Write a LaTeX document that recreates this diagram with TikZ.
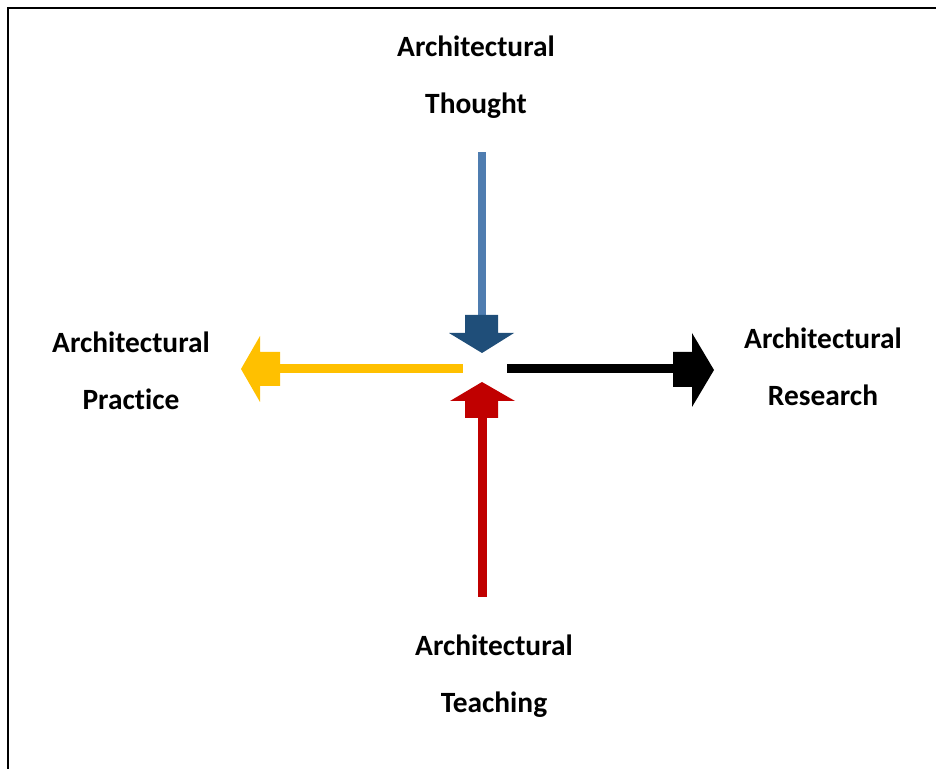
\documentclass[tikz,border=0pt]{standalone}
\usepackage{fontspec}
\setmainfont{Carlito}[Ligatures=NoCommon]
\definecolor{thoughtlight}{HTML}{4F7DB0}
\definecolor{thoughtdark}{HTML}{1F4E79}
\definecolor{teachred}{HTML}{C00000}
\definecolor{practiceyellow}{HTML}{FFC000}
\tikzset{
  lbl/.style={font=\fontsize{14.7pt}{28.5pt}\selectfont\bfseries, align=center, inner sep=0pt},
  frame/.style={draw=black, line width=1.2pt}
}
\begin{document}
\begin{tikzpicture}[x=0.5pt,y=-0.5pt]
\useasboundingbox (0,0) rectangle (936,769);
\draw[frame] (8,8) rectangle (950,790);
% labels
\node[lbl] (thought) at (476,77) {Architectural\\Thought};
\node[lbl] (practice) at (131,371) {Architectural\\Practice};
\node[lbl] (research) at (823,367) {Architectural\\Research};
\node[lbl] (teaching) at (494,676) {Architectural\\Teaching};
% blue arrow (down)
\fill[thoughtlight] (478,152) rectangle (486,315);
\fill[thoughtdark] (465,315) -- (498,315) -- (498,333) -- (514,333) -- (482,353) -- (449,333) -- (465,333) -- cycle;
% red arrow (up)
\fill[teachred] (478,418) rectangle (487,597);
\fill[teachred] (482,382) -- (515,401) -- (498,401) -- (498,418) -- (465,418) -- (465,401) -- (450,401) -- cycle;
% yellow arrow (left)
\fill[practiceyellow] (280,364) rectangle (463,373);
\fill[practiceyellow] (241,369) -- (260,336) -- (260,352) -- (280,352) -- (280,386) -- (260,386) -- (260,402) -- cycle;
% black arrow (right)
\fill[black] (507,364) rectangle (673,373);
\fill[black] (673,352) -- (692,352) -- (692,333) -- (714,370) -- (692,407) -- (692,387) -- (673,387) -- cycle;
\end{tikzpicture}
\end{document}
